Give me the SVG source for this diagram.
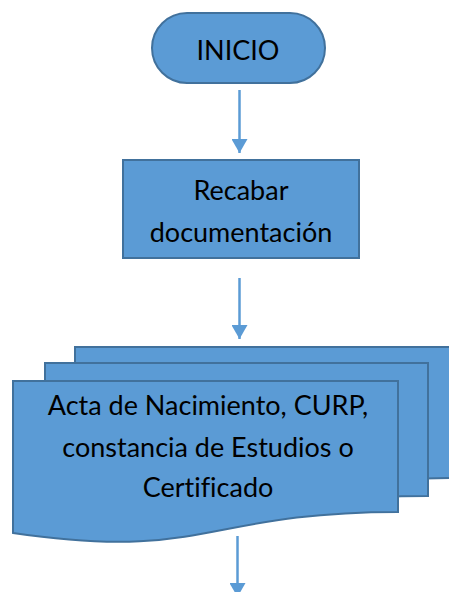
<svg xmlns="http://www.w3.org/2000/svg" width="449" height="592" viewBox="0 0 449 592">
<style>
.shape{fill:#5B9BD5;stroke:#41719C;stroke-width:2}
.lbl{font-family:Lato,"Open Sans","Liberation Sans",sans-serif;font-size:27px;fill:#000;text-anchor:middle;font-variant-ligatures:none;font-feature-settings:"liga" 0}
.conn{stroke:#5B9BD5;stroke-width:2.5;fill:none}
</style>
<defs>
<marker id="ah" viewBox="0 0 14 16" refX="14" refY="8" markerWidth="14" markerHeight="16" markerUnits="userSpaceOnUse" orient="auto">
<path d="M0,0 L14,8 L0,16 Z" fill="#5B9BD5"/>
</marker>
</defs>
<rect width="449" height="592" fill="#fff"/>
<g id="inicio">
<rect class="shape" x="152" y="13" width="173" height="70" rx="35" ry="35"/>
<text class="lbl" x="238" y="60">INICIO</text>
</g>
<g id="recabar">
<rect class="shape" x="123" y="160" width="236" height="98"/>
<text class="lbl" x="241" y="200">Recabar</text>
<text class="lbl" x="241" y="242">documentación</text>
</g>
<g id="documentos">
<path class="shape" d="M75,347 H458 V478 C266.5,478 266.5,527.5 75,500 Z"/>
<path class="shape" d="M45,363 H428 V496 C236.5,496 236.5,546.5 45,518 Z"/>
<path class="shape" d="M13,381 H398 V512 C205.5,512 205.5,561.5 13,533 Z"/>
<text class="lbl" x="208" y="415">Acta de Nacimiento, CURP,</text>
<text class="lbl" x="208" y="457">constancia de Estudios o</text>
<text class="lbl" x="208" y="497">Certificado</text>
</g>
<g id="conectores">
<line class="conn" x1="239.5" y1="90" x2="239.5" y2="153" marker-end="url(#ah)"/>
<line class="conn" x1="239.5" y1="278" x2="239.5" y2="339" marker-end="url(#ah)"/>
<line class="conn" x1="237.5" y1="536" x2="237.5" y2="597" marker-end="url(#ah)"/>
</g>
</svg>
